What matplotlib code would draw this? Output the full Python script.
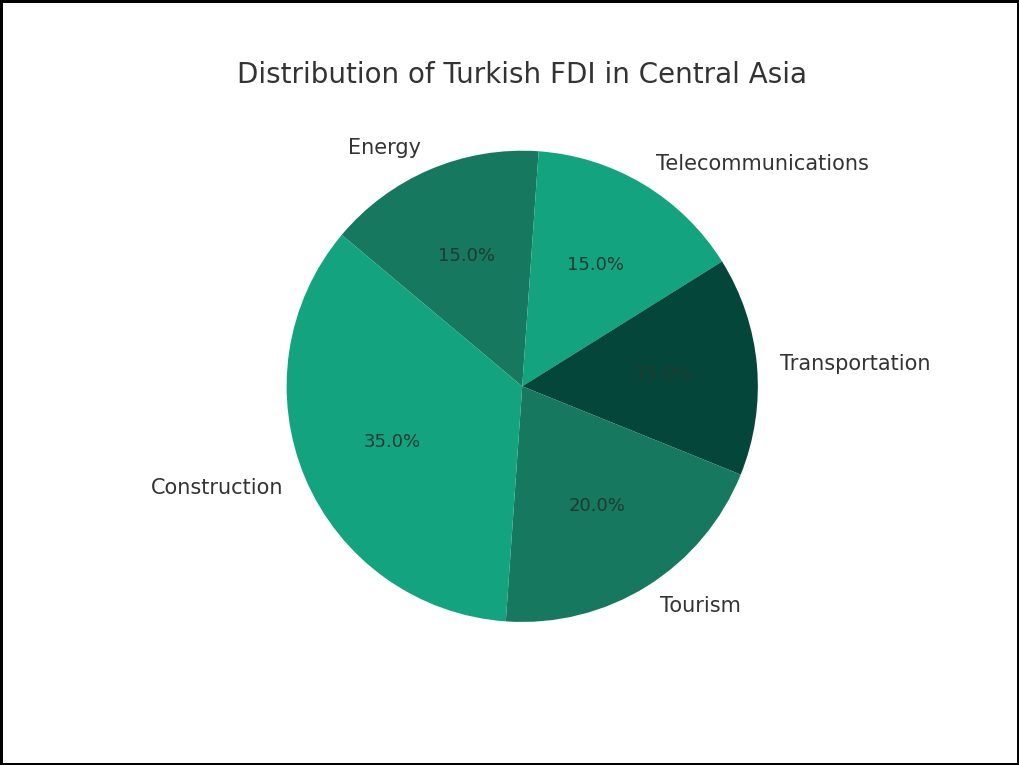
import matplotlib
matplotlib.use("Agg")
import matplotlib.pyplot as plt

# sector shares of Turkish FDI (percent)
sectors = ["Energy", "Telecommunications", "Transportation", "Tourism", "Construction"]
shares = [15, 15, 15, 20, 35]
colors = ["#16785e", "#14a37f", "#04473a", "#16785e", "#14a37f"]

fig, ax = plt.subplots(figsize=(10.19, 7.65), dpi=100)
fig.patch.set_edgecolor("black")
fig.patch.set_linewidth(2.5)

wedges, texts, autotexts = ax.pie(
    shares,
    labels=sectors,
    colors=colors,
    autopct="%1.1f%%",
    startangle=140,
    counterclock=False,
    textprops={"fontsize": 15, "color": "#333333"},
)
for t in autotexts:
    t.set_fontsize(13)
    t.set_color("#1f3a30")

ax.set_title("Distribution of Turkish FDI in Central Asia", fontsize=20, color="#333333")

plt.savefig("out.png", dpi=100, edgecolor=fig.get_edgecolor())
